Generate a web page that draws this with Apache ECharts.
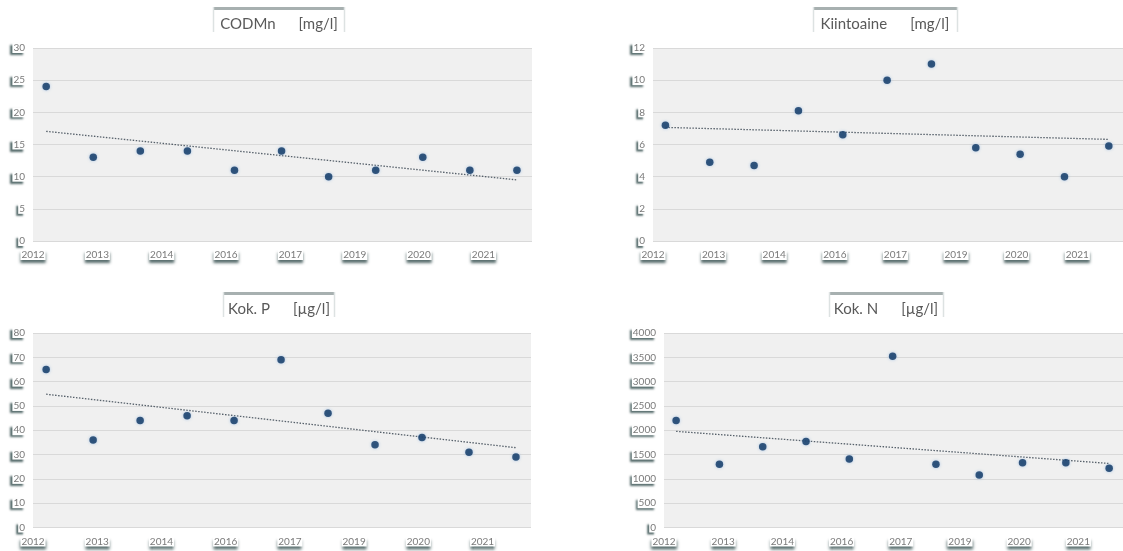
<!DOCTYPE html>
<html>
<head>
<meta charset="utf-8">
<script src="https://cdn.jsdelivr.net/npm/echarts@6/dist/echarts.min.js"></script>
<style>
html,body{margin:0;padding:0;background:#fff;}
#chart{width:1123px;height:551px;}
</style>
</head>
<body>
<div id="chart"></div>
<script>
// ---- data ----
const sampleYears = [2012, 2013, 2014, 2015, 2016, 2017, 2018, 2019, 2020, 2021, 2022];
const codmn      = [24, 13, 14, 14, 11, 14, 10, 11, 13, 11, 11];
const kiintoaine = [7.2, 4.9, 4.7, 8.1, 6.6, 10.0, 11.0, 5.8, 5.4, 4.0, 5.9];
const kokP       = [65, 36, 44, 46, 44, 69, 47, 34, 37, 31, 29];
const kokN       = [2200, 1300, 1660, 1770, 1410, 3520, 1300, 1080, 1330, 1330, 1220];
const xTickLabels = ['2012', '2013', '2014', '2016', '2017', '2019', '2020', '2021'];
const panelNames = ['CODMn', 'Kiintoaine', 'Kok. P', 'Kok. N'];
const panelUnits = ['[mg/l]', '[mg/l]', '[µg/l]', '[µg/l]'];
const yMaxes = [30, 12, 80, 4000];
const ySteps = [5, 2, 10, 500];

// ---- layout / style (not data) ----
const X_MIN = 2011.72, X_MAX = 2022.32, X_TICK_STEP = 1.367;
const layout = [
  {grid: {left: 33, top: 48, width: 499, height: 193}, box: [213, 7, 132, 25], titleCx: 279, titleTop: 15},
  {grid: {left: 653, top: 48, width: 475, height: 193}, box: [813, 7, 145, 25], titleCx: 885, titleTop: 15},
  {grid: {left: 33, top: 333, width: 498, height: 194.5}, box: [223, 292, 112, 25], titleCx: 279, titleTop: 300},
  {grid: {left: 664, top: 333, width: 463, height: 194.5}, box: [829, 292, 115, 25], titleCx: 886, titleTop: 300}
];
const FONT = 'Lato, "Open Sans", sans-serif';
const seriesData = [codmn, kiintoaine, kokP, kokN];

const xTickValues = xTickLabels.map((_, k) => X_MIN + k * X_TICK_STEP);

function regression(xs, ys) {
  const n = xs.length;
  const mx = xs.reduce((a, b) => a + b, 0) / n;
  const my = ys.reduce((a, b) => a + b, 0) / n;
  let sxy = 0, sxx = 0;
  for (let i = 0; i < n; i++) { sxy += (xs[i] - mx) * (ys[i] - my); sxx += (xs[i] - mx) * (xs[i] - mx); }
  const b = sxy / sxx, a = my - b * mx;
  return [[xs[0], a + b * xs[0]], [xs[n - 1], a + b * xs[n - 1]]];
}

const grids = [], xAxes = [], yAxes = [], series = [], titles = [], graphics = [];
layout.forEach((L, i) => {
  grids.push(Object.assign({show: true, backgroundColor: '#f0f0f0', borderWidth: 0}, L.grid));
  xAxes.push({
    type: 'value', gridIndex: i, min: X_MIN, max: X_MAX,
    axisLine: {show: false}, axisTick: {show: false}, splitLine: {show: false},
    axisLabel: {
      customValues: xTickValues,
      showMinLabel: true, showMaxLabel: true,
      margin: 9,
      fontFamily: FONT, fontSize: 10, color: '#7a7a7a',
      backgroundColor: '#ffffff', padding: [0, 1, 0, 1],
      shadowColor: 'rgba(60,85,85,0.85)', shadowBlur: 3, shadowOffsetX: 0, shadowOffsetY: 3,
      formatter: function (v) {
        const k = Math.round((v - X_MIN) / X_TICK_STEP);
        return xTickLabels[k] !== undefined ? xTickLabels[k] : '';
      }
    }
  });
  yAxes.push({
    type: 'value', gridIndex: i, min: 0, max: yMaxes[i], interval: ySteps[i],
    axisLine: {show: false}, axisTick: {show: false},
    splitLine: {show: true, lineStyle: {color: '#d9d9d9', width: 1}},
    axisLabel: {
      margin: 8, fontFamily: FONT, fontSize: 10, color: '#7a7a7a',
      backgroundColor: '#ffffff', padding: [0, 0, 0, 1],
      shadowColor: 'rgba(60,85,85,0.85)', shadowBlur: 2, shadowOffsetX: -2, shadowOffsetY: 2,
      formatter: function (v) { return String(v); }
    }
  });
  const pts = sampleYears.map((y, j) => [y, seriesData[i][j]]);
  series.push({
    type: 'line', xAxisIndex: i, yAxisIndex: i, symbol: 'none', silent: true, z: 2,
    data: regression(sampleYears, seriesData[i]),
    lineStyle: {color: '#56606a', width: 1.3, type: [1.5, 1.5]}
  });
  series.push({
    type: 'scatter', xAxisIndex: i, yAxisIndex: i, symbolSize: 7.5, z: 3,
    data: pts,
    itemStyle: {color: '#0b3360', shadowBlur: 3, shadowColor: 'rgba(140,180,225,0.9)'}
  });
  titles.push({
    text: panelNames[i] + '      ' + panelUnits[i],
    left: L.titleCx, top: L.titleTop, textAlign: 'center', padding: 0,
    textStyle: {fontFamily: FONT, fontSize: 15, fontWeight: 'normal', color: '#595959', lineHeight: 18}
  });
  const [bx, by, bw, bh] = L.box;
  graphics.push({type: 'rect', shape: {x: bx, y: by, width: bw, height: 3}, style: {fill: '#a7b0b0'}, z: 10});
  graphics.push({type: 'line', shape: {x1: bx + 0.5, y1: by, x2: bx + 0.5, y2: by + bh}, style: {stroke: '#dde2e2', lineWidth: 1.5}, z: 10});
  graphics.push({type: 'line', shape: {x1: bx + bw - 0.5, y1: by, x2: bx + bw - 0.5, y2: by + bh}, style: {stroke: '#dde2e2', lineWidth: 1.5}, z: 10});
});

const chart = echarts.init(document.getElementById('chart'), null, {renderer: 'canvas'});
chart.setOption({
  animation: false,
  backgroundColor: '#ffffff',
  title: titles,
  grid: grids,
  xAxis: xAxes,
  yAxis: yAxes,
  series: series,
  graphic: graphics
});
</script>
</body>
</html>
